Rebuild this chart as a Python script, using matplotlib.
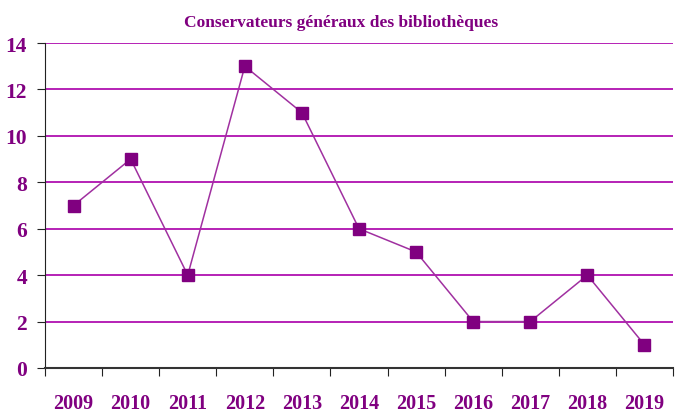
import numpy as np
import matplotlib
matplotlib.use('Agg')
import matplotlib.pyplot as plt

annees = ['2009', '2010', '2011', '2012', '2013', '2014', '2015', '2016', '2017', '2018', '2019']
valeurs = [7, 9, 4, 13, 11, 6, 5, 2, 2, 4, 1]
titre = 'Conservateurs généraux des bibliothèques'

violet = '#800080'
plt.rcParams['font.family'] = ['Liberation Serif', 'DejaVu Serif']

fig = plt.figure(figsize=(6.75, 4.14), dpi=100, facecolor='white')
ax = fig.add_axes([0.0667, 0.1087, 0.9303, 0.785])

x = np.arange(len(annees))
ax.plot(x, valeurs, color='#a030a0', linewidth=1.1, zorder=3)
ax.plot(x, valeurs, 's', color=violet, markersize=8, zorder=4)

ax.set_xlim(-0.5, len(annees) - 0.5)
ax.set_ylim(0, 14)
ax.set_yticks(range(0, 15, 2))
for y in range(2, 15, 2):
    ax.axhline(y, color='#b010b0', linewidth=1.3, zorder=1)

# ticks at category boundaries, labels at centres
ax.set_xticks(np.arange(-0.5, len(annees), 1))
ax.set_xticklabels([])
ax.set_xticks(x, minor=True)
ax.set_xticklabels(annees, minor=True)
ax.tick_params(axis='x', which='major', direction='out', length=6, color='#222222')
ax.tick_params(axis='x', which='minor', length=0, pad=18)
ax.tick_params(axis='y', direction='out', length=6, color='#222222', pad=7)

for lab in ax.get_xticklabels(minor=True):
    lab.set_color(violet)
    lab.set_fontweight('bold')
    lab.set_fontsize(14.5)
for lab in ax.get_yticklabels():
    lab.set_color(violet)
    lab.set_fontweight('bold')
    lab.set_fontsize(15.5)

for s in ['top', 'right']:
    ax.spines[s].set_visible(False)
ax.spines['left'].set_color('#222222')
ax.spines['bottom'].set_color('#333333')
ax.spines['bottom'].set_linewidth(1.5)

fig.text(0.505, 0.935, titre, ha='center', color=violet, fontweight='bold', fontsize=12.5)

plt.savefig('out.png', dpi=100)
